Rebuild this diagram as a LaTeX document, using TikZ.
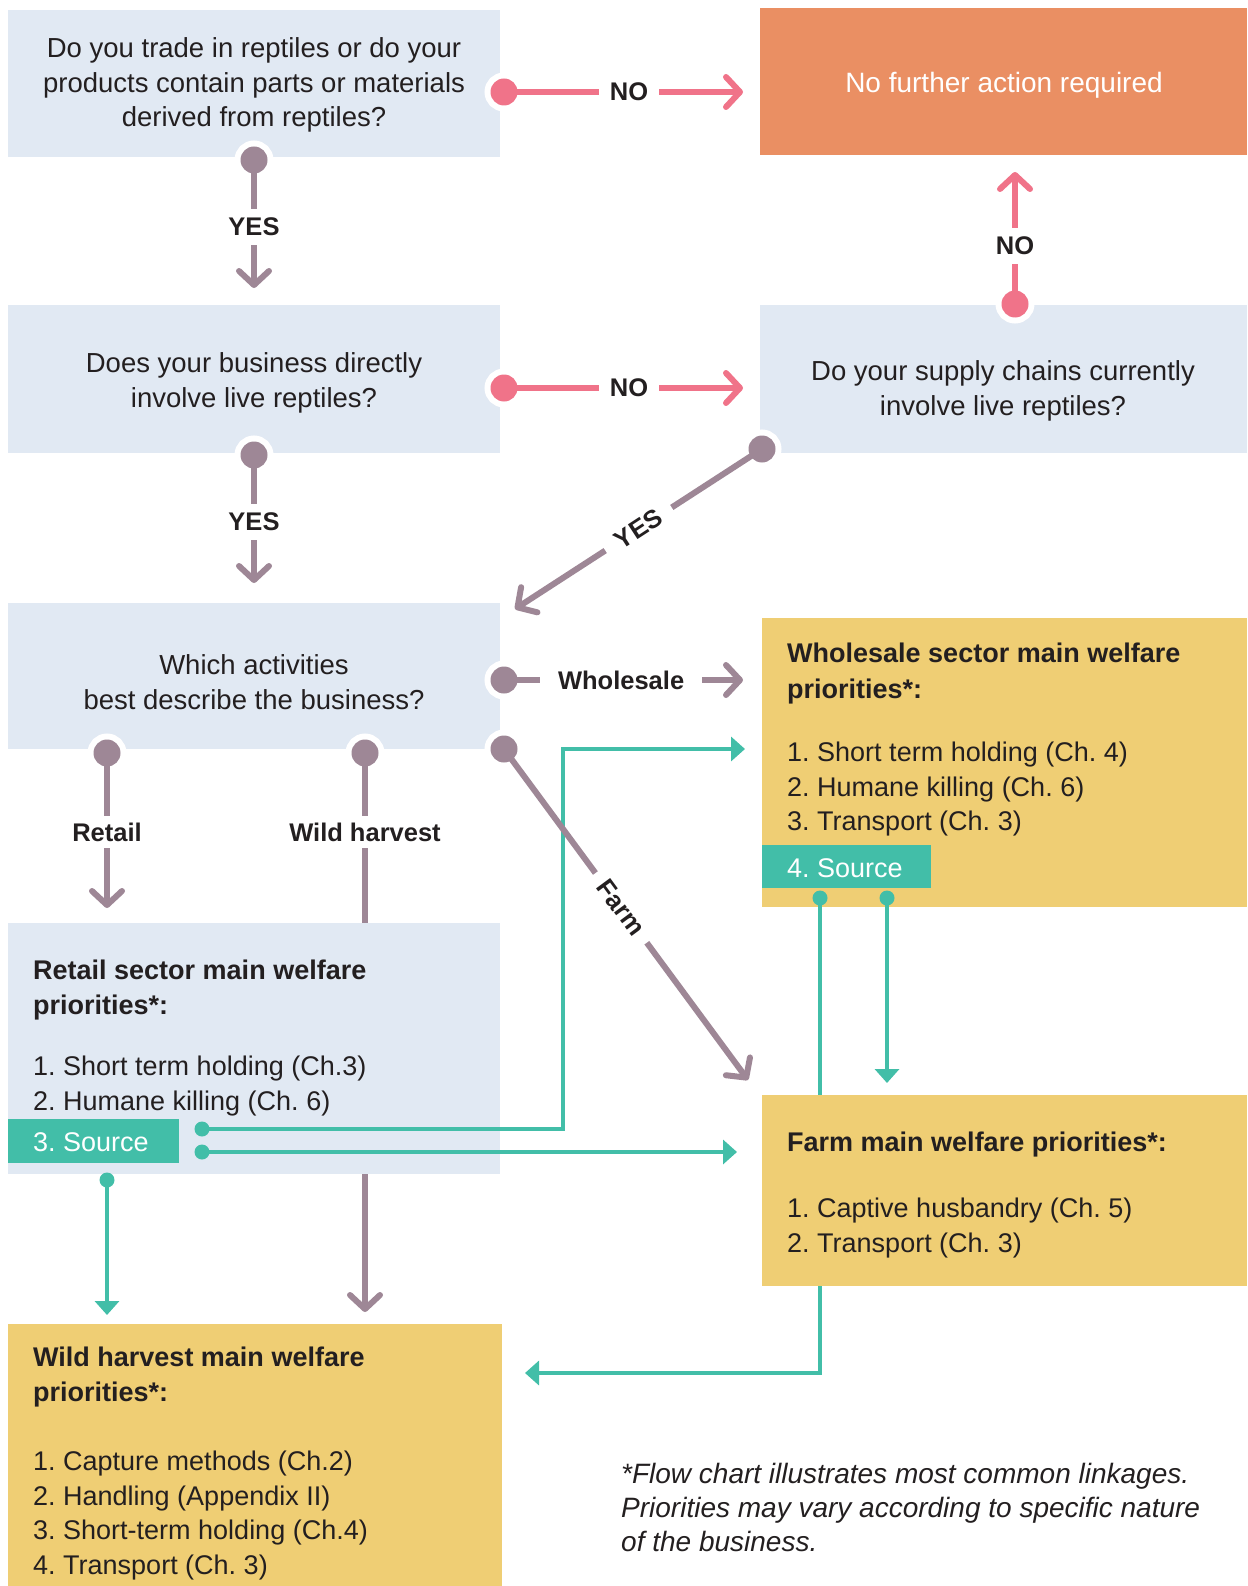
\documentclass[tikz,border=0pt]{standalone}
\usepackage{fontspec}
\setmainfont{Liberation Sans}
\usetikzlibrary{arrows.meta}
\frenchspacing
\definecolor{qblue}{RGB}{225,233,243}
\definecolor{orng}{RGB}{234,143,99}
\definecolor{pnk}{RGB}{240,115,137}
\definecolor{mauve}{RGB}{158,135,150}
\definecolor{tealc}{RGB}{66,190,168}
\definecolor{ylw}{RGB}{239,206,116}
\definecolor{ink}{RGB}{35,31,32}
\newcommand\qfnt{\fontsize{27.5}{34.5}\selectfont}
\newcommand\bfnt{\fontsize{27}{34.5}\selectfont}
\newcommand\lfnt{\fontsize{25.5}{30}\selectfont\bfseries}
\begin{document}
\begin{tikzpicture}[x=1pt,y=-1pt,
  box/.style={rectangle, inner sep=0pt, outer sep=0pt, anchor=north west, fill=#1},
  qtxt/.style={align=center, font=\qfnt, text=ink, inner sep=0pt},
  ltxt/.style={anchor=base west, inner sep=0pt, font=\bfnt, text=ink},
  btxt/.style={ltxt, font=\bfnt\bfseries},
  wtxt/.style={ltxt, text=white},
  ntxt/.style={ltxt, font=\fontsize{28}{34.5}\selectfont\itshape},
  bigdot/.style={circle, inner sep=0pt, minimum size=27pt, fill=#1, preaction={draw=white, line width=12pt}},
  smdot/.style={circle, inner sep=0pt, minimum size=15pt, fill=tealc},
  pline/.style={draw=pnk, line width=6pt, -{Straight Barb[length=14pt,width=30pt,line cap=round,line join=round]}},
  mline/.style={draw=mauve, line width=6pt, -{Straight Barb[length=14pt,width=30pt,line cap=round,line join=round]}},
  mplain/.style={draw=mauve, line width=6pt},
  tline/.style={draw=tealc, line width=4pt, line join=miter, -{Triangle[length=14pt,width=24pt]}},
  tplain/.style={draw=tealc, line width=4pt, line join=miter},
  lab/.style={fill=white, inner xsep=11pt, inner ysep=8pt, font=\lfnt, text=ink}
]
\useasboundingbox (0,0) rectangle (1247,1586);
% boxes
\node[box=qblue, minimum width=492pt, minimum height=147pt] (q1) at (8,10) {};
\node[box=orng, minimum width=487pt, minimum height=147pt] (nf) at (760,8) {};
\node[box=qblue, minimum width=492pt, minimum height=148pt] (q2) at (8,305) {};
\node[box=qblue, minimum width=487pt, minimum height=148pt] (q3) at (760,305) {};
\node[box=qblue, minimum width=492pt, minimum height=146pt] (q4) at (8,603) {};
\node[box=ylw, minimum width=485pt, minimum height=289pt] (ws) at (762,618) {};
\node[box=tealc, minimum width=169pt, minimum height=43pt] (wsrc) at (762,845) {};
\node[box=qblue, minimum width=492pt, minimum height=251pt] (rt) at (8,923) {};
\node[box=tealc, minimum width=171pt, minimum height=44pt] (rsrc) at (8,1119) {};
\node[box=ylw, minimum width=485pt, minimum height=191pt] (fm) at (762,1095) {};
\node[box=ylw, minimum width=494pt, minimum height=262pt] (wh) at (8,1324) {};

% dots
\node[bigdot=pnk] (p1) at (504,92) {};
\node[bigdot=pnk] (p2) at (504,388) {};
\node[bigdot=pnk] (p3) at (1015,304) {};
\node[bigdot=mauve] (m1) at (254,160) {};
\node[bigdot=mauve] (m2) at (254,455) {};
\node[bigdot=mauve] (m3) at (762,449) {};
\node[bigdot=mauve] (m4) at (504,680) {};
\node[bigdot=mauve] (m5) at (504,749) {};
\node[bigdot=mauve] (m6) at (107,753) {};
\node[bigdot=mauve] (m7) at (365,753) {};
\node[smdot] (s1) at (202,1129) {};
\node[smdot] (s2) at (202,1152) {};
\node[smdot] (s3) at (107,1180) {};
\node[smdot] (s4) at (820,898) {};
\node[smdot] (s5) at (887,898) {};

% end coordinates
\coordinate (tp1) at (743,92);
\coordinate (tp2) at (743,388);
\coordinate (tp3) at (1015,172);
\coordinate (tm1) at (254,288);
\coordinate (tm2) at (254,583);
\coordinate (tm3) at (515,609);
\coordinate (tm4) at (743,680);
\coordinate (tm5) at (748,1080);
\coordinate (tm6) at (107,908);
\coordinate (tm7) at (365,1312);
\coordinate (ts1) at (745,749);
\coordinate (ts2) at (737,1152);
\coordinate (ts3) at (107,1315);
\coordinate (ts4) at (525,1373);
\coordinate (ts5) at (887,1083);

% teal connectors
\draw[tline] (s1.center) -- (563,1129) -- (563,749) -- (ts1);
\draw[tline] (s2.center) -- (ts2);
\draw[tline] (s3.center) -- (ts3);
\draw[tplain] (s4.center) -- (s4 |- fm.north);
\draw[tline] (s4 |- fm.south) -- (820,1373) -- (ts4);
\draw[tline] (s5.center) -- (ts5);

% pink connectors
\draw[pline] (p1.center) -- node[lab, pos=0.523]{NO} (tp1);
\draw[pline] (p2.center) -- node[lab, pos=0.523]{NO} (tp2);
\draw[pline] (p3.center) -- node[lab, pos=0.44, inner ysep=9pt]{NO} (tp3);

% mauve connectors
\draw[mline] (m1.center) -- node[lab, pos=0.52, inner ysep=9pt]{YES} (tm1);
\draw[mline] (m2.center) -- node[lab, pos=0.52, inner ysep=9pt]{YES} (tm2);
\draw[mline] (m3.center) -- node[lab, pos=0.5, rotate=33, inner xsep=14pt]{YES} (tm3);
\draw[mline] (m4.center) -- node[lab, pos=0.49, inner xsep=18pt]{Wholesale} (tm4);
\draw[mline] (m5.center) -- node[lab, pos=0.48, rotate=-53.6, inner xsep=12pt]{Farm} (tm5);
\draw[mline] (m6.center) -- node[lab, pos=0.51, inner ysep=7pt]{Retail} (tm6);
\draw[mplain] (m7.center) -- node[lab, pos=0.465, inner ysep=7pt]{Wild harvest} (m7 |- rt.north);
\draw[mline] (m7 |- rt.south) -- (tm7);

% question texts
\node[qtxt] (q1t) at (254,85) {Do you trade in reptiles or do your\\products contain parts or materials\\derived from reptiles?};
\node[qtxt, font=\fontsize{28}{34.5}\selectfont, text=white] (nft) at (1004,85) {No further action required};
\node[qtxt] (q2t) at (254,383) {Does your business directly\\involve live reptiles?};
\node[qtxt] (q3t) at (1003,391) {Do your supply chains currently\\involve live reptiles?};
\node[qtxt] (q4t) at (254,682) {Which activities\\best describe the business?};

% wholesale
\node[btxt] (w1) at (787,662) {Wholesale sector main welfare};
\node[btxt] (w2) at (787,698) {priorities*:};
\node[ltxt] (w3) at (787,761) {1. Short term holding (Ch. 4)};
\node[ltxt] (w4) at (787,796) {2. Humane killing (Ch. 6)};
\node[ltxt] (w5) at (787,830) {3. Transport (Ch. 3)};
\node[wtxt] (w6) at (787,877) {4. Source};

% retail
\node[btxt] (r1) at (33,979) {Retail sector main welfare};
\node[btxt] (r2) at (33,1014) {priorities*:};
\node[ltxt] (r3) at (33,1075) {1. Short term holding (Ch.3)};
\node[ltxt] (r4) at (33,1110) {2. Humane killing (Ch. 6)};
\node[wtxt] (r5) at (33,1151) {3. Source};

% farm
\node[btxt] (f1) at (787,1151) {Farm main welfare priorities*:};
\node[ltxt] (f2) at (787,1217) {1. Captive husbandry (Ch. 5)};
\node[ltxt] (f3) at (787,1252) {2. Transport (Ch. 3)};

% wild harvest
\node[btxt] (h1) at (33,1366) {Wild harvest main welfare};
\node[btxt] (h2) at (33,1401) {priorities*:};
\node[ltxt] (h3) at (33,1470) {1. Capture methods (Ch.2)};
\node[ltxt] (h4) at (33,1505) {2. Handling (Appendix II)};
\node[ltxt] (h5) at (33,1539) {3. Short-term holding (Ch.4)};
\node[ltxt] (h6) at (33,1574) {4. Transport (Ch. 3)};

% footnote
\node[ntxt] (n1) at (621,1483) {*Flow chart illustrates most common linkages.};
\node[ntxt] (n2) at (621,1517) {Priorities may vary according to specific nature};
\node[ntxt] (n3) at (621,1551) {of the business.};
\end{tikzpicture}
\end{document}
